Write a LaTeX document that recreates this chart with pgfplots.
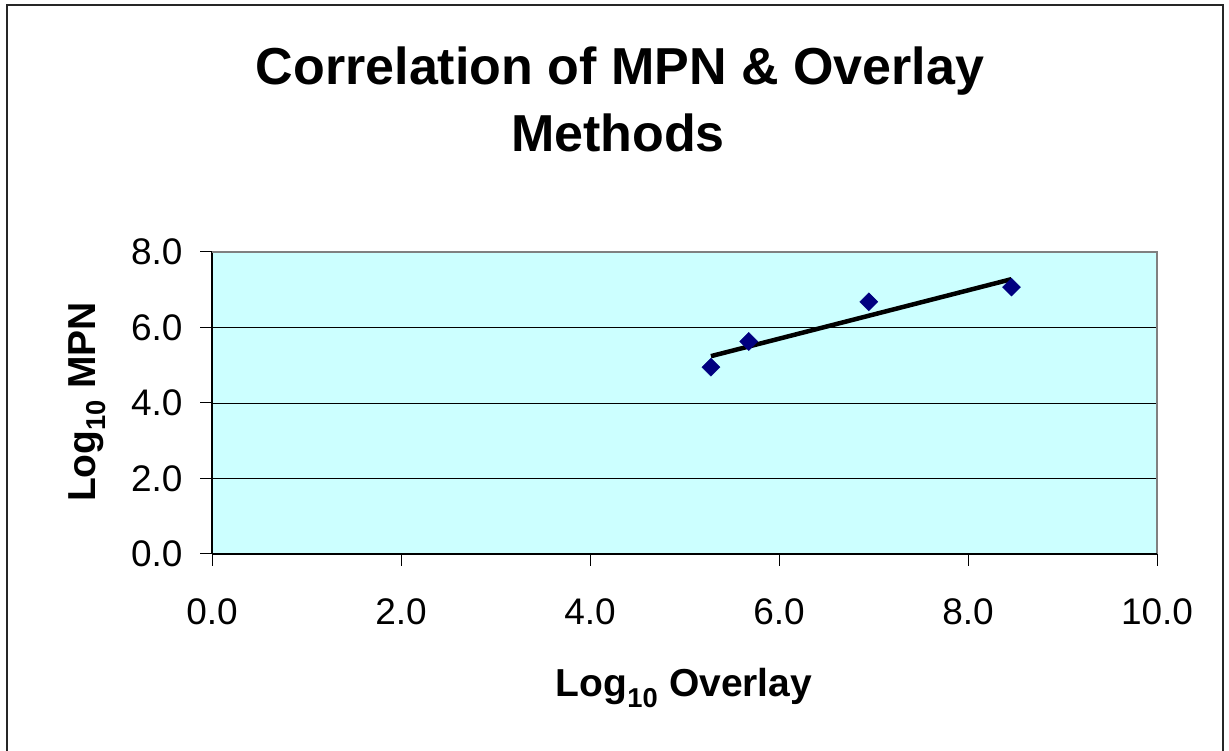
\documentclass[border=0pt]{standalone}
\usepackage{fontspec}
\setmainfont{Liberation Sans}
\usepackage{pgfplots}
\usepackage{pgfplotstable}
\pgfplotsset{compat=1.18}
\definecolor{plotbg}{HTML}{CCFFFF}
\definecolor{navy}{HTML}{000080}
\pgfplotstableread{
x y
5.28 4.95
5.68 5.63
6.95 6.68
8.46 7.07
}\datatable
\begin{document}
\begin{tikzpicture}
\useasboundingbox (0pt,0pt) rectangle (1229pt,751pt);
\draw[line width=1.5pt, black!85] (7pt,-10pt) -- (7pt,746pt) -- (1223pt,746pt) -- (1223pt,-10pt);
\begin{axis}[
  at={(212pt,197pt)}, anchor=south west,
  scale only axis, width=945pt, height=302pt,
  xmin=0, xmax=10, ymin=0, ymax=8,
  xtick={0,2,...,10}, ytick={0,2,...,8},
  axis x line*=bottom, axis y line*=left,
  axis line style={line width=1.2pt, black, -},
  axis background/.style={fill=plotbg},
  tick align=outside, major tick length=12pt,
  tick style={black, line width=1pt},
  ymajorgrids, grid style={black, line width=0.9pt},
  /pgf/number format/assume math mode=true,
  /pgf/number format/fixed, /pgf/number format/fixed zerofill,
  /pgf/number format/precision=1,
  ticklabel style={font=\fontsize{37}{42}\selectfont},
  xticklabel style={yshift=-29pt},
  yticklabel style={xshift=-14pt},
  clip=false,
]
\addplot[only marks, mark=square*, mark size=6.4pt, navy,
  every mark/.append style={rotate=45}] table[x=x,y=y] {\datatable};
\addplot[black, line width=4.5pt, no marks] table[x=x, y={create col/linear regression={y=y}}] {\datatable};
\draw[gray, line width=2pt] (rel axis cs:0,1) -- (rel axis cs:1,1) -- (rel axis cs:1,0);
\draw[black, line width=1.2pt] (rel axis cs:0,0) -- (rel axis cs:1,0);
\end{axis}
\node[anchor=base, font=\fontsize{52}{56}\bfseries\selectfont] at (620pt,666pt) {Correlation of MPN \& Overlay};
\node[anchor=base, font=\fontsize{52}{56}\bfseries\selectfont] at (618pt,599pt) {Methods};
\node[anchor=base, font=\fontsize{39}{44}\bfseries\selectfont] at (684pt,54pt) {Log\textsubscript{10} Overlay};
\node[rotate=90, anchor=base, font=\fontsize{39}{44}\bfseries\selectfont] at (95pt,349pt) {Log\textsubscript{10} MPN};
\end{tikzpicture}
\end{document}
